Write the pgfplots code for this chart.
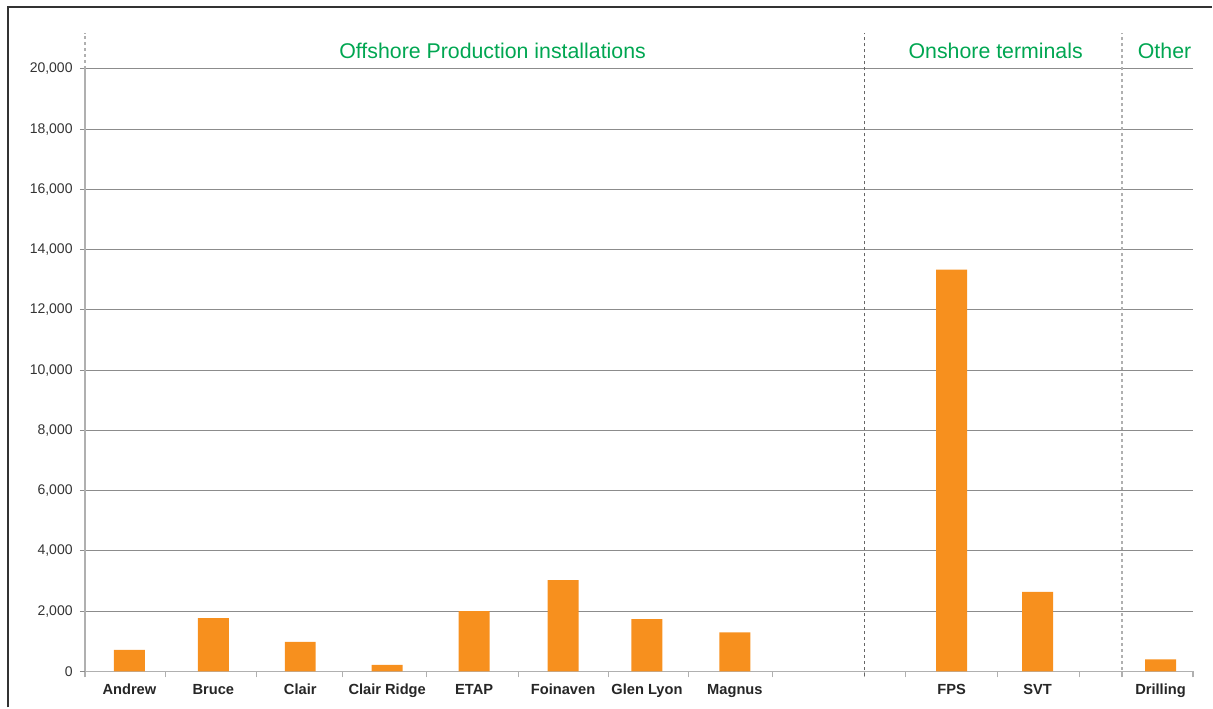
\documentclass[border=0pt]{standalone}
\usepackage{pgfplots}
\pgfplotsset{compat=1.18}
\usepackage{fontspec}
\setmainfont{Liberation Sans}

\definecolor{barorange}{HTML}{F7901E}
\definecolor{hdrgreen}{HTML}{00A651}
\definecolor{gridgray}{HTML}{8C8C8C}
\definecolor{axgray}{HTML}{B0B0B0}
\definecolor{ticktext}{HTML}{333333}

\begin{document}
\begin{tikzpicture}
% page frame (1px = 0.75pt)
\path (0pt,0pt) rectangle (909.75pt,531pt);
\draw[line width=1.5pt, black!80] (6pt,0pt) -- (6pt,525.75pt) -- (909.75pt,525.75pt);

\begin{axis}[
    at={(63.75pt,27pt)}, anchor=south west,
    scale only axis,
    width=831.75pt, height=452.25pt,
    xmin=85, xmax=1194,
    ymin=0, ymax=20000,
    ybar, bar width=31,
    axis x line*=bottom, axis y line*=left,
    axis line style={axgray, line width=1.2pt},
    ytick={0,2000,...,20000},
    ymajorgrids,
    grid style={gridgray, line width=0.75pt},
    y tick style={gridgray, line width=0.75pt},
    tick align=outside,
    major tick length=3.75pt,
    xtick={129.5,213.5,300.5,387.5,474.5,563.5,647.5,735.5,952.5,1038.5,1161.5},
    xticklabels={Andrew,Bruce,Clair,Clair Ridge,ETAP,Foinaven,Glen Lyon,Magnus,FPS,SVT,Drilling},
    x tick style={draw=none},
    minor xtick={85,166,257,343,427,519,609,689,773,865,906,998,1080,1123,1194},
    minor tick length=4.5pt,
    minor x tick style={draw=axgray, line width=0.9pt},
    xticklabel style={font=\fontsize{11}{13}\selectfont\bfseries, text=black!85,
        text height=1.6ex, text depth=0.3ex, yshift=-1.5pt},
    yticklabel style={font=\fontsize{10.5}{12}\selectfont, text=ticktext, xshift=-2pt},
    /pgf/number format/.cd, 1000 sep={,}, assume math mode=true,
    /pgfplots/.cd,
    scaled y ticks=false,
    clip=false,
]

\addplot[fill=barorange, draw=none] coordinates {
    (129.5,720)
    (213.5,1770)
    (300.5,980)
    (387.5,220)
    (474.5,2000)
    (563.5,3030)
    (647.5,1740)
    (735.5,1300)
    (952.5,13340)
    (1038.5,2640)
    (1161.5,400)
};

% group separators
\draw[black!60, line width=0.7pt, dash pattern=on 2.25pt off 2.25pt]
    (axis cs:865,-150) -- (axis cs:865,21200);
\draw[axgray, line width=1pt, dash pattern=on 2.25pt off 2.25pt]
    (axis cs:1123,-150) -- (axis cs:1123,21200);
\draw[axgray, line width=1pt, dash pattern=on 2.25pt off 2.25pt]
    (axis cs:85,20000) -- (axis cs:85,21200);

% group headers
\node[anchor=base, text=hdrgreen, font=\fontsize{16}{19}\selectfont] at (axis cs:493,20330) {Offshore Production installations};
\node[anchor=base, text=hdrgreen, font=\fontsize{16}{19}\selectfont] at (axis cs:996.5,20330) {Onshore terminals};
\node[anchor=base, text=hdrgreen, font=\fontsize{16}{19}\selectfont] at (axis cs:1165.5,20330) {Other};

\end{axis}
\end{tikzpicture}
\end{document}
